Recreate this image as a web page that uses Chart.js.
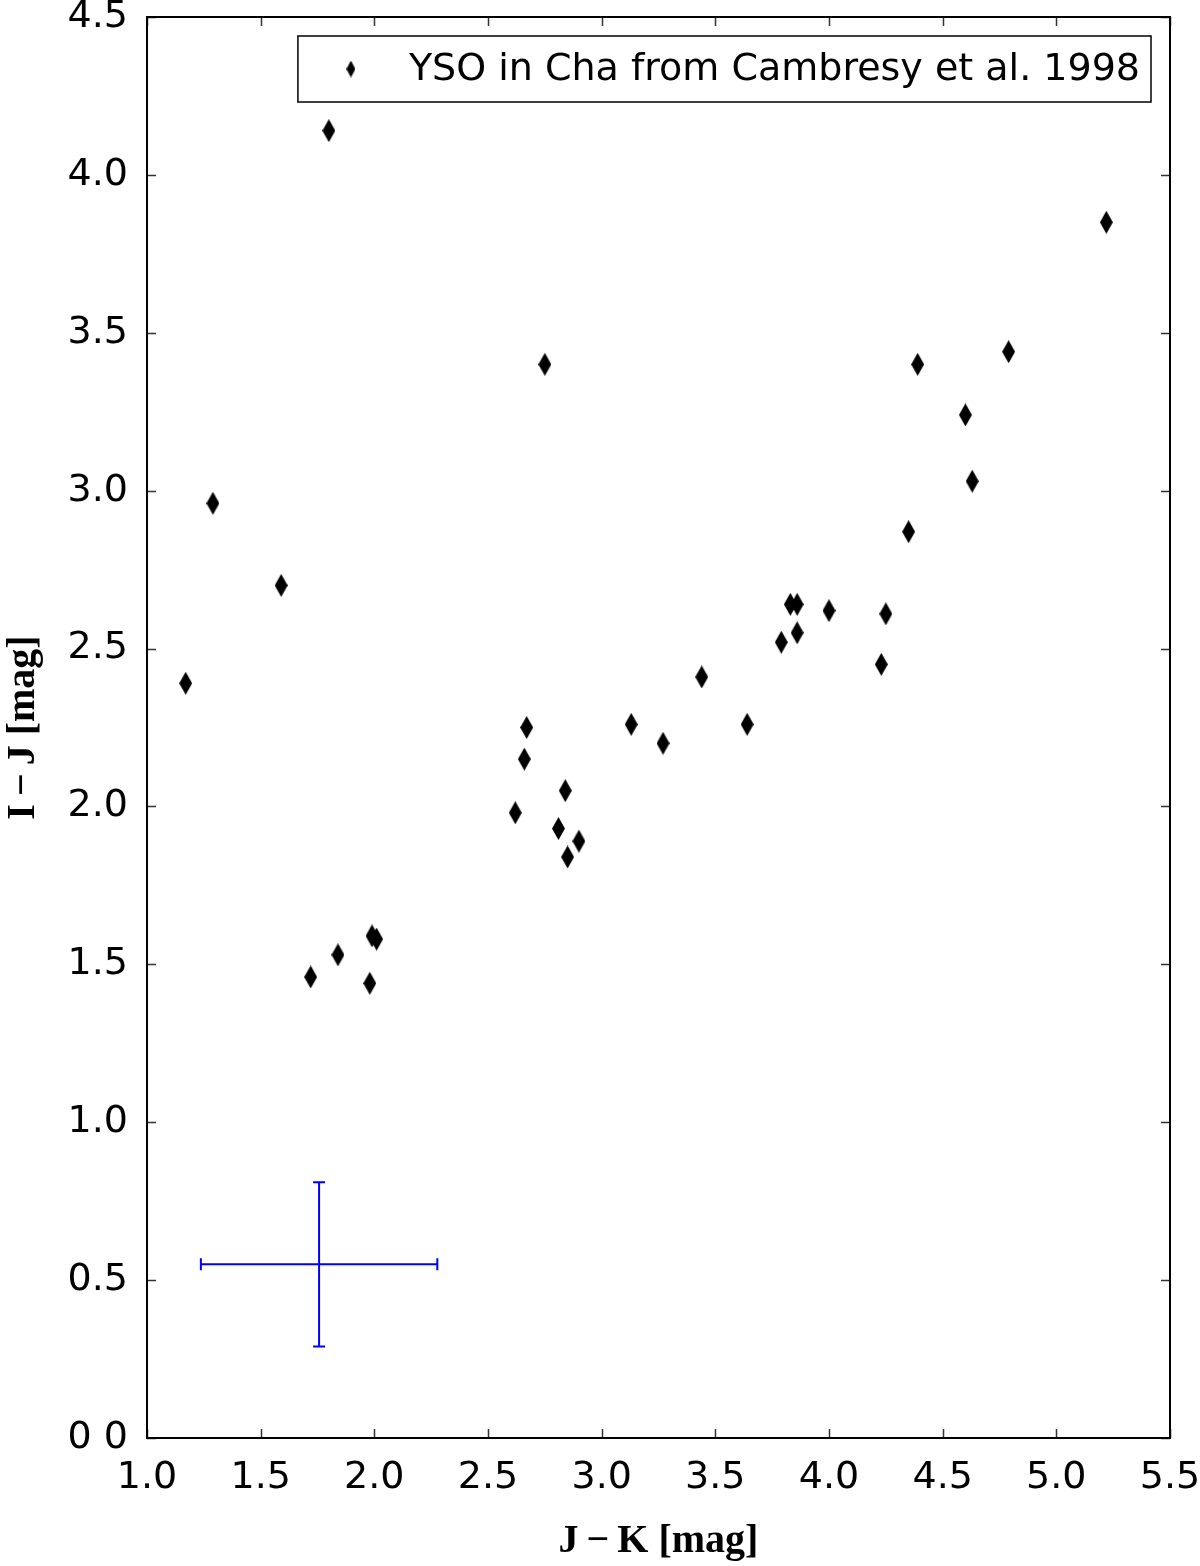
<!DOCTYPE html>
<html>
<head>
<meta charset="utf-8">
<script src="https://cdn.jsdelivr.net/npm/chart.js@4"></script>
<style>
  html, body { margin: 0; padding: 0; background: #fff; }
  #wrap { width: 1200px; height: 1566px; }
</style>
</head>
<body>
<div id="wrap"><canvas id="c"></canvas></div>
<script>
// J-K colour and I-J colour of the YSOs
const jk = [1.17, 1.29, 1.59, 1.80, 1.72, 1.84, 1.98, 1.99, 2.01, 2.62, 2.66, 2.67, 2.75, 2.81, 2.84, 2.85, 2.90,
  3.13, 3.27, 3.44, 3.64, 3.79, 3.83, 3.86, 3.86, 4.00, 4.23, 4.25, 4.35, 4.39, 4.60, 4.63, 4.79, 5.22];
const ij = [2.39, 2.96, 2.70, 4.14, 1.46, 1.53, 1.44, 1.59, 1.58, 1.98, 2.15, 2.25, 3.40, 1.93, 2.05, 1.84, 1.89,
  2.26, 2.20, 2.41, 2.26, 2.52, 2.64, 2.64, 2.55, 2.62, 2.45, 2.61, 2.87, 3.40, 3.24, 3.03, 3.44, 3.85];

// typical error bar
const errCenter = [1.757, 0.55];
const errSize = [0.52, 0.26];

const xTicks = [1.0, 1.5, 2.0, 2.5, 3.0, 3.5, 4.0, 4.5, 5.0, 5.5];
const yTicks = [0.0, 0.5, 1.0, 1.5, 2.0, 2.5, 3.0, 3.5, 4.0, 4.5];
const legendLabel = 'YSO in Cha from Cambresy et al. 1998';

function thinDiamond(w, h) {
  const c = document.createElement('canvas');
  c.width = w; c.height = h;
  const g = c.getContext('2d');
  g.fillStyle = '#000';
  g.beginPath();
  g.moveTo(w / 2, 0); g.lineTo(w, h / 2); g.lineTo(w / 2, h); g.lineTo(0, h / 2);
  g.closePath(); g.fill();
  return c;
}
const marker = thinDiamond(13, 23);
const smallMarker = thinDiamond(9, 17);

const tickFont = { family: 'DejaVu Sans', size: 38 };
const titleFont = { family: 'Liberation Serif', size: 40, weight: 'bold' };

const frame = {
  id: 'frame',
  afterDatasetsDraw(chart) {
    const ctx = chart.ctx;
    const xs = chart.scales.x, ys = chart.scales.y;
    // error bar
    const cx = xs.getPixelForValue(errCenter[0]), cy = ys.getPixelForValue(errCenter[1]);
    const x0 = xs.getPixelForValue(errCenter[0] - errSize[0]), x1 = xs.getPixelForValue(errCenter[0] + errSize[0]);
    const y0 = ys.getPixelForValue(errCenter[1] - errSize[1]), y1 = ys.getPixelForValue(errCenter[1] + errSize[1]);
    ctx.save();
    ctx.strokeStyle = '#0000ff';
    ctx.lineWidth = 2;
    ctx.beginPath();
    ctx.moveTo(x0, cy); ctx.lineTo(x1, cy);
    ctx.moveTo(cx, y0); ctx.lineTo(cx, y1);
    ctx.moveTo(x0, cy - 6); ctx.lineTo(x0, cy + 6);
    ctx.moveTo(x1, cy - 6); ctx.lineTo(x1, cy + 6);
    ctx.moveTo(cx - 6, y0); ctx.lineTo(cx + 6, y0);
    ctx.moveTo(cx - 6, y1); ctx.lineTo(cx + 6, y1);
    ctx.stroke();
    ctx.restore();
  },
  afterDraw(chart) {
    const ctx = chart.ctx;
    const { left, right, top, bottom } = chart.chartArea;
    const xs = chart.scales.x, ys = chart.scales.y;
    ctx.save();
    // inward ticks on every side
    ctx.strokeStyle = '#333';
    ctx.lineWidth = 1.5;
    ctx.beginPath();
    xTicks.forEach(v => {
      const p = Math.round(xs.getPixelForValue(v)) + 0.5;
      ctx.moveTo(p, bottom); ctx.lineTo(p, bottom - 9);
      ctx.moveTo(p, top); ctx.lineTo(p, top + 9);
    });
    yTicks.forEach(v => {
      const p = Math.round(ys.getPixelForValue(v)) + 0.5;
      ctx.moveTo(left, p); ctx.lineTo(left + 9, p);
      ctx.moveTo(right, p); ctx.lineTo(right - 9, p);
    });
    ctx.stroke();
    ctx.strokeStyle = '#000';
    ctx.lineWidth = 2;
    ctx.strokeRect(left, top, right - left, bottom - top);

    // legend box
    ctx.font = '38px "DejaVu Sans"';
    const tw = ctx.measureText(legendLabel).width;
    const bx1 = right - 19, by0 = top + 19, by1 = top + 85;
    const tx = bx1 - 11 - tw;
    const mx = tx - 58;
    const bx0 = mx - 53;
    ctx.fillStyle = '#fff';
    ctx.fillRect(bx0, by0, bx1 - bx0, by1 - by0);
    ctx.lineWidth = 1.5;
    ctx.strokeRect(bx0, by0, bx1 - bx0, by1 - by0);
    ctx.drawImage(smallMarker, mx - 4.5, (by0 + by1) / 2 - 8.5);
    ctx.fillStyle = '#000';
    ctx.textBaseline = 'middle';
    ctx.fillText(legendLabel, tx, (by0 + by1) / 2 + 1);
    ctx.restore();
  }
};

new Chart(document.getElementById('c'), {
  type: 'scatter',
  data: {
    datasets: [{
      label: legendLabel,
      data: jk.map((x, i) => ({ x, y: ij[i] })),
      pointStyle: marker,
      pointRadius: 10,
    }],
  },
  options: {
    responsive: true,
    maintainAspectRatio: false,
    animation: false,
    layout: { autoPadding: false, padding: { top: 17, right: 30, left: 0, bottom: 0 } },
    plugins: { legend: { display: false }, tooltip: { enabled: false } },
    scales: {
      x: {
        type: 'linear', min: 1.0, max: 5.5,
        afterBuildTicks: s => { s.ticks = xTicks.map(v => ({ value: v })); },
        afterFit: s => { s.height = 128; s.paddingLeft = 0; s.paddingRight = 0; },
        grid: { display: false, drawTicks: false },
        border: { display: false },
        ticks: { font: tickFont, color: '#000', padding: 17, maxRotation: 0, callback: v => v.toFixed(1) },
        title: { display: true, text: 'J\u2009\u2212\u2009K [mag]', font: titleFont, color: '#000', padding: { top: 0, bottom: 0 } },
      },
      y: {
        type: 'linear', min: 0, max: 4.5,
        afterBuildTicks: s => { s.ticks = yTicks.map(v => ({ value: v })); },
        afterFit: s => { s.width = 147; s.paddingTop = 0; s.paddingBottom = 0; },
        grid: { display: false, drawTicks: false },
        border: { display: false },
        ticks: { font: tickFont, color: '#000', padding: 19, callback: v => v === 0 ? '0 0' : v.toFixed(1) },
        title: { display: true, text: 'I\u2009\u2212\u2009J [mag]', font: titleFont, color: '#000', padding: { top: 0, bottom: 0 } },
      },
    },
  },
  plugins: [frame],
});
</script>
</body>
</html>
